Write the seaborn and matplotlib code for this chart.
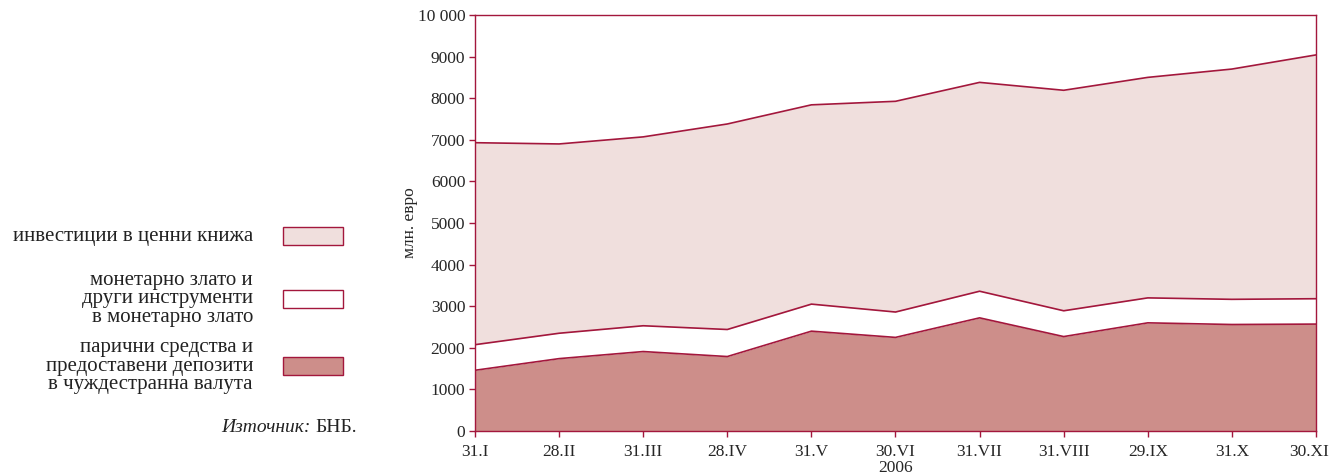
import numpy as np
import pandas as pd
import matplotlib
matplotlib.use('Agg')
import matplotlib.pyplot as plt
import matplotlib.transforms as mtransforms
import seaborn as sns

dates = ['31.I', '28.II', '31.III', '28.IV', '31.V', '30.VI',
         '31.VII', '31.VIII', '29.IX', '31.X', '30.XI']
deposits = [1460, 1740, 1910, 1790, 2400, 2250, 2720, 2270, 2600, 2560, 2570]
gold = [615, 610, 620, 650, 650, 610, 640, 620, 600, 605, 610]
securities = [4855, 4550, 4540, 4940, 4790, 5065, 5020, 5300, 5300, 5535, 5860]

labels = ['инвестиции в ценни книжа',
          'монетарно злато и\nдруги инструменти\nв монетарно злато',
          'парични средства и\nпредоставени депозити\nв чуждестранна валута']

c_sec = '#F0DFDD'
c_gold = '#FFFFFF'
c_dep = '#CD8E8A'
c_line = '#A3173C'

sns.set_style('white')
plt.rcParams['font.family'] = ['Liberation Serif', 'DejaVu Serif']

df = pd.DataFrame({'d': dates, 'dep': deposits, 'gold': gold, 'sec': securities})
df['x'] = np.arange(len(df))
df['b1'] = df['dep']
df['b2'] = df['dep'] + df['gold']
df['b3'] = df['b2'] + df['sec']

fig = plt.figure(figsize=(13.31, 4.74), dpi=100)
ax = fig.add_axes([0.3569, 0.0907, 0.6318, 0.8777])

ax.fill_between(df['x'], 0, df['b1'], color=c_dep, lw=0)
ax.fill_between(df['x'], df['b1'], df['b2'], color=c_gold, lw=0)
ax.fill_between(df['x'], df['b2'], df['b3'], color=c_sec, lw=0)
for col in ['b1', 'b2', 'b3']:
    sns.lineplot(data=df, x='x', y=col, color=c_line, lw=1.2, ax=ax)

ax.set_xlim(0, len(dates) - 1)
ax.set_ylim(0, 10000)
ax.set_xticks(df['x'])
ax.set_xticklabels(dates, fontsize=12.5)
yt = np.arange(0, 10001, 1000)
ax.set_yticks(yt)
ax.set_yticklabels([str(v) if v < 10000 else '10 000' for v in yt], fontsize=12.5)
ax.tick_params(axis='both', direction='out', length=4, width=1, color=c_line)
ax.tick_params(axis='x', bottom=True, pad=5)
ax.tick_params(axis='y', left=True, pad=3)
for s in ax.spines.values():
    s.set_color(c_line)
    s.set_linewidth(1)
# last tick label is pulled left so it stays inside the picture
last = ax.get_xticklabels()[-1]
last.set_transform(last.get_transform() + mtransforms.ScaledTranslation(-7 / 100, 0, fig.dpi_scale_trans))
ax.set_xlabel('2006', fontsize=12.5, labelpad=0)
ax.set_ylabel('млн. евро', fontsize=12.5, labelpad=0)

# legend on the left
fills = [c_sec, c_gold, c_dep]
ys = [236, 299, 366]
for lab, fc, yc in zip(labels, fills, ys):
    fy = 1 - yc / 474
    fig.text(253 / 1331, fy, lab, ha='right', va='center', fontsize=15,
             linespacing=0.93, color='#222222')
    fig.patches.append(plt.Rectangle((283 / 1331, fy - 9 / 474), 60 / 1331, 18 / 474,
                                     transform=fig.transFigure, facecolor=fc,
                                     edgecolor=c_line, lw=1))

src = fig.text(357 / 1331, 1 - 428 / 474, 'БНБ.', ha='right', va='center',
               fontsize=14, color='#222222')
r = fig.canvas.get_renderer()
w = src.get_window_extent(r).width
fig.text((357 - w - 5) / 1331, 1 - 428 / 474, 'Източник:', ha='right', va='center',
         fontsize=14, style='italic', color='#222222')

fig.savefig('out.png', dpi=100, facecolor='w')
